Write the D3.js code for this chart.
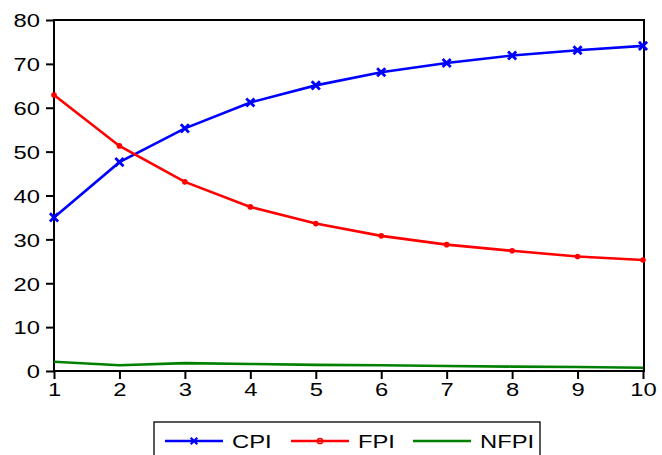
<!DOCTYPE html>
<html><head><meta charset="utf-8">
<script src="https://cdn.jsdelivr.net/npm/d3@7"></script>
<style>body{margin:0;background:#fff}svg{display:block}</style>
</head><body>
<svg id="c" width="662" height="455"></svg>
<script>
const periods = [1,2,3,4,5,6,7,8,9,10];
const cpi  = [35.0,47.6,55.3,61.2,65.1,68.1,70.2,71.9,73.1,74.1];
const fpi  = [62.9,51.3,43.1,37.4,33.6,30.8,28.8,27.4,26.1,25.3];
const nfpi = [2.1,1.3,1.8,1.6,1.4,1.3,1.15,1.0,0.9,0.75];
const yTicks = [0,10,20,30,40,50,60,70,80];
const seriesNames = ["CPI","FPI","NFPI"];
const seriesColors = ["#0000ff","#ff0000","#008000"];

const svg = d3.select("#c");
const L=54, R=643, T=20, B=371;
const x = d3.scaleLinear().domain([1,10]).range([L,R]);
const y = d3.scaleLinear().domain([0,80]).range([B,T]);
const font = "Liberation Sans, Arial, sans-serif";
const SX = 1.25;

// y axis
const ya = svg.append("g").attr("transform",`translate(${L},0)`)
  .call(d3.axisLeft(y).tickValues(yTicks).tickSize(8));
ya.select(".domain").remove();
ya.selectAll("line").attr("stroke","#000").attr("stroke-width",2);
ya.selectAll("text").attr("font-family",font).attr("font-size",19).attr("fill","#000")
  .attr("dy","0.36em").attr("x",-14/SX).attr("transform",`scale(${SX},1)`);

// x axis
const xa = svg.append("g").attr("transform",`translate(0,${B})`)
  .call(d3.axisBottom(x).tickValues(periods).tickSize(8).tickPadding(4));
xa.select(".domain").remove();
xa.selectAll("line").attr("stroke","#000").attr("stroke-width",2);
xa.selectAll("text").attr("font-family",font).attr("font-size",19).attr("fill","#000")
  .attr("transform",`scale(${SX},1)`);

// frame
svg.append("rect").attr("x",L).attr("y",T).attr("width",R-L+1).attr("height",B-T)
  .attr("fill","none").attr("stroke","#000").attr("stroke-width",2);

const line = d3.line().x((d,i)=>x(periods[i])).y(d=>y(d));
const data = [cpi,fpi,nfpi];
data.forEach((s,k)=>{
  svg.append("path").datum(s).attr("d",line).attr("fill","none")
    .attr("stroke",seriesColors[k]).attr("stroke-width",2.6);
});
// CPI x markers
const cross = d3.symbol().type(d3.symbolX).size(45);
svg.append("g").selectAll("path").data(cpi).join("path")
  .attr("d",cross).attr("transform",(d,i)=>`translate(${x(periods[i])},${y(d)})`)
  .attr("stroke","#0000ff").attr("stroke-width",2.8).attr("fill","none");
// FPI dot markers
svg.append("g").selectAll("circle").data(fpi).join("circle")
  .attr("cx",(d,i)=>x(periods[i])).attr("cy",d=>y(d)).attr("r",2.8)
  .attr("fill","#ff0000");

// legend
const lg = svg.append("g");
lg.append("rect").attr("x",154).attr("y",422).attr("width",386).attr("height",40)
  .attr("fill","none").attr("stroke","#000").attr("stroke-width",1.3);
const lx = [165,291,413];
seriesNames.forEach((n,k)=>{
  const g = lg.append("g").attr("transform",`translate(${lx[k]},441)`);
  g.append("line").attr("x1",0).attr("x2",58).attr("stroke",seriesColors[k]).attr("stroke-width",2.6);
  if(k===0) g.append("path").attr("d",d3.symbol().type(d3.symbolX).size(30)()).attr("transform","translate(29,0)")
      .attr("stroke","#0000ff").attr("stroke-width",2.2).attr("fill","none");
  if(k===1) g.append("circle").attr("cx",29).attr("r",2.6).attr("fill","none").attr("stroke","#ff0000").attr("stroke-width",1.5);
  g.append("text").attr("x",67/SX).attr("y",7).attr("transform",`scale(${SX},1)`)
    .attr("font-family",font).attr("font-size",19).attr("fill","#000").text(n);
});
</script>
</body></html>
